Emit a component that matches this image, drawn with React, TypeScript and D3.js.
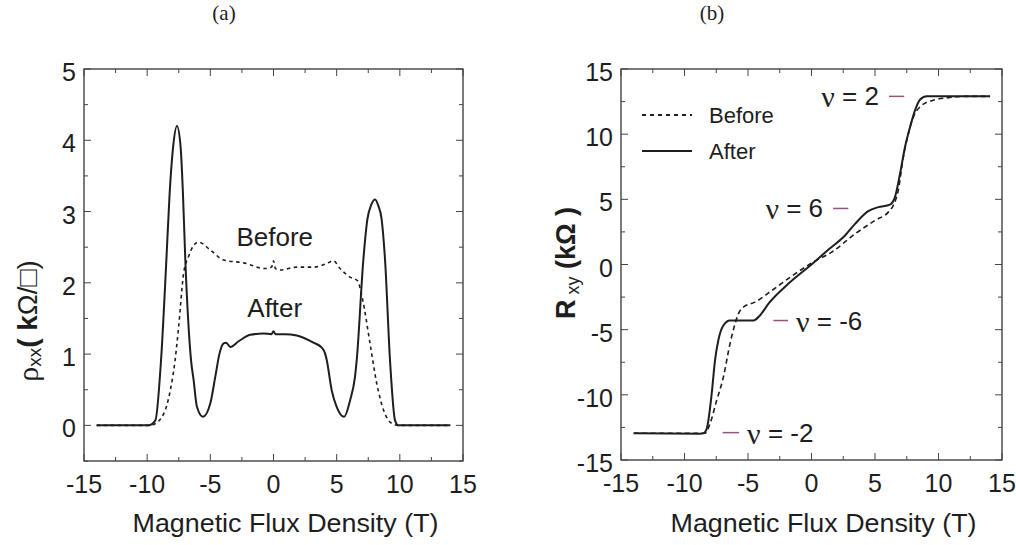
import * as d3 from "d3";

// field in T
const rhoAfter: [number, number][] = [
  [-14, 0], [-9.9, 0], [-9.35, 0.07], [-8.9, 0.92], [-8.48, 2.32], [-8.22, 3.26], [-7.95, 3.9],
  [-7.64, 4.2], [-7.35, 3.9], [-7.17, 3.26], [-6.98, 2.32], [-6.53, 0.92], [-6.32, 0.63],
  [-6.06, 0.26], [-5.59, 0.12], [-5.0, 0.31], [-4.61, 0.68], [-4.27, 1.01], [-3.95, 1.15],
  [-3.75, 1.16], [-3.42, 1.1], [-2.76, 1.18], [-1.84, 1.27], [-0.8, 1.29], [-0.15, 1.28],
  [0, 1.32], [0.15, 1.28], [0.9, 1.28], [1.84, 1.26], [3.16, 1.16], [3.82, 1.09], [4.08, 1.01],
  [4.21, 0.92], [4.61, 0.49], [5.0, 0.26], [5.59, 0.12], [6.06, 0.35], [6.45, 0.68], [6.59, 0.92],
  [7.11, 2.32], [7.43, 2.89], [7.75, 3.1], [8.04, 3.17], [8.3, 3.08], [8.56, 2.89], [8.83, 2.32],
  [9.22, 0.92], [9.62, 0.07], [9.88, 0], [14, 0],
];

const rhoBefore: [number, number][] = [
  [-14, 0], [-9.8, 0], [-9.3, 0.03], [-8.9, 0.1], [-8.5, 0.25], [-8.17, 0.49], [-7.8, 0.9],
  [-7.51, 1.38], [-7.11, 2.14], [-6.72, 2.37], [-6.3, 2.53], [-5.93, 2.57], [-5.0, 2.46],
  [-3.95, 2.32], [-2.37, 2.28], [-0.66, 2.2], [-0.15, 2.22], [0, 2.31], [0.15, 2.2], [0.53, 2.18],
  [1.84, 2.22], [3.16, 2.22], [4.2, 2.27], [4.74, 2.31], [5.27, 2.2], [6.06, 2.08], [6.64, 2.03],
  [7.06, 1.76], [7.64, 1.15], [8.17, 0.59], [8.7, 0.22], [9.35, 0.03], [9.88, 0], [14, 0],
];

const rxyAfter: [number, number][] = [
  [-14, -12.95], [-8.78, -12.98], [-8.5, -12.95], [-8.25, -12.6], [-7.86, -9.92], [-7.6, -7.37],
  [-7.34, -5.83], [-6.94, -4.68], [-6.42, -4.3], [-5.5, -4.3], [-4.58, -4.3], [-4.06, -3.91],
  [-3.4, -3.02], [-1.83, -1.48], [0, 0], [1.32, 1.13], [2.64, 2.23], [3.43, 3.12], [4.47, 4.09],
  [5.26, 4.4], [6.18, 4.6], [6.57, 5.17], [6.97, 6.96], [7.36, 9.0], [7.76, 10.54], [8.15, 11.82],
  [8.54, 12.64], [9.07, 12.9], [14.06, 12.9],
];

const rxyBefore: [number, number][] = [
  [-14, -12.95], [-8.39, -12.95], [-8.0, -12.23], [-7.47, -10.44], [-6.94, -8.65], [-6.42, -6.09],
  [-6.02, -4.55], [-5.76, -3.79], [-5.37, -3.27], [-4.45, -2.89], [-3.13, -2.0], [-1.3, -0.72],
  [0.13, 0.18], [1.59, 0.95], [3.43, 2.35], [5.0, 3.38], [6.05, 4.02], [6.44, 4.53], [6.83, 5.68],
  [7.23, 8.24], [7.62, 10.03], [8.02, 11.3], [8.67, 12.2], [9.72, 12.64], [10.77, 12.8],
  [12.07, 12.9], [14.06, 12.9],
];

const xTicks = d3.range(-15, 15.01, 2.5);
const rhoTicks = d3.range(-0.5, 5.01, 0.5);
const rxyTicks = d3.range(-15, 15.01, 2.5);

// filling-factor markers: [nu, plateau kOhm, dash start T, dash end T]
const nuMarks: [string, number, number, number][] = [
  ["2", 12.9, 6.1, 7.3],
  ["6", 4.3, 1.7, 2.9],
  ["-6", -4.3, -3.0, -1.85],
  ["-2", -12.9, -7.0, -5.7],
];

const FONT = "'Liberation Sans', Arial, Helvetica, sans-serif";
const SERIF = "'Liberation Serif', 'Times New Roman', serif";
const INK = "#1e1e1e";
const MARK = "#a04f7c";

type PanelProps = {
  left: number;
  right: number;
  top: number;
  bottom: number;
  yDomain: [number, number];
  yTicks: number[];
  isMajorY: (v: number) => boolean;
  children: (x: d3.ScaleLinear<number, number>, y: d3.ScaleLinear<number, number>) => any;
};

function Panel({ left, right, top, bottom, yDomain, yTicks, isMajorY, children }: PanelProps) {
  const x = d3.scaleLinear().domain([-15, 15]).range([left, right]);
  const y = d3.scaleLinear().domain(yDomain).range([bottom, top]);
  const isMajorX = (v: number) => Math.abs(v % 5) < 1e-6;
  return (
    <g>
      {children(x, y)}
      <rect x={left} y={top} width={right - left} height={bottom - top} fill="none" stroke="#333" strokeWidth={1.3} />
      {xTicks.map((t) => {
        const len = isMajorX(t) ? 7 : 4;
        return (
          <g key={"x" + t}>
            <line x1={x(t)} x2={x(t)} y1={bottom} y2={bottom - len} stroke="#444" strokeWidth={1} />
            <line x1={x(t)} x2={x(t)} y1={top} y2={top + len} stroke="#444" strokeWidth={1} />
            {isMajorX(t) && (
              <text x={x(t)} y={bottom + 23} textAnchor="middle" dominantBaseline="central" fontSize={25} fill={INK}>
                {t}
              </text>
            )}
          </g>
        );
      })}
      {yTicks.map((t) => {
        const len = isMajorY(t) ? 7 : 4;
        return (
          <g key={"y" + t}>
            <line x1={left} x2={left + len} y1={y(t)} y2={y(t)} stroke="#444" strokeWidth={1} />
            <line x1={right} x2={right - len} y1={y(t)} y2={y(t)} stroke="#444" strokeWidth={1} />
            {isMajorY(t) && (
              <text x={left - 8} y={y(t) + 3} textAnchor="end" dominantBaseline="central" fontSize={25} fill={INK}>
                {t}
              </text>
            )}
          </g>
        );
      })}
      <text
        x={(left + right) / 2 + 12}
        y={523}
        textAnchor="middle"
        dominantBaseline="central"
        fontSize={26}
        textLength={306}
        lengthAdjust="spacingAndGlyphs"
        fill={INK}
      >
        Magnetic Flux Density (T)
      </text>
    </g>
  );
}

function trace(x: d3.ScaleLinear<number, number>, y: d3.ScaleLinear<number, number>, pts: [number, number][]) {
  return d3
    .line<[number, number]>()
    .x((d) => x(d[0]))
    .y((d) => y(d[1]))
    .curve(d3.curveMonotoneX)(pts) as string;
}

export default function App() {
  return (
    <svg width={1016} height={545} style={{ position: "absolute", left: 0, top: 0, background: "#fff" }} fontFamily={FONT}>
      <text x={224} y={13} textAnchor="middle" dominantBaseline="central" fontSize={21} fontFamily={SERIF} fill={INK}>
        (a)
      </text>
      <text x={712} y={13} textAnchor="middle" dominantBaseline="central" fontSize={21} fontFamily={SERIF} fill={INK}>
        (b)
      </text>

      <Panel left={84} right={463} top={69} bottom={461} yDomain={[-0.5, 5]} yTicks={rhoTicks} isMajorY={(v) => Math.abs(v % 1) < 1e-6}>
        {(x, y) => (
          <g>
            <path d={trace(x, y, rhoBefore)} fill="none" stroke={INK} strokeWidth={1.6} strokeDasharray="3.5 3.5" />
            <path d={trace(x, y, rhoAfter)} fill="none" stroke={INK} strokeWidth={2} />
            <text x={x(0.1)} y={237} textAnchor="middle" dominantBaseline="central" fontSize={26} fill={INK}>Before</text>
            <text x={x(0.1)} y={308} textAnchor="middle" dominantBaseline="central" fontSize={26} fill={INK}>After</text>
          </g>
        )}
      </Panel>

      <Panel left={621} right={1002} top={69} bottom={460} yDomain={[-15, 15]} yTicks={rxyTicks} isMajorY={(v) => Math.abs(v % 5) < 1e-6}>
        {(x, y) => (
          <g>
            <path d={trace(x, y, rxyBefore)} fill="none" stroke={INK} strokeWidth={1.6} strokeDasharray="5 3.5" />
            <path d={trace(x, y, rxyAfter)} fill="none" stroke={INK} strokeWidth={2} />
            <line x1={642} x2={692} y1={115} y2={115} stroke={INK} strokeWidth={1.8} strokeDasharray="4 4" />
            <text x={709} y={115} dominantBaseline="central" fontSize={22} fill={INK}>Before</text>
            <line x1={642} x2={692} y1={151} y2={151} stroke={INK} strokeWidth={2} />
            <text x={709} y={151} dominantBaseline="central" fontSize={22} fill={INK}>After</text>
            {nuMarks.map(([nu, v, a, b]) => {
              const positive = v > 0;
              return (
                <g key={nu}>
                  <line x1={x(a)} x2={x(b)} y1={y(v)} y2={y(v)} stroke={MARK} strokeWidth={1.5} />
                  <text
                    x={positive ? x(a) - 10 : x(b) + 8}
                    y={y(v)}
                    textAnchor={positive ? "end" : "start"}
                    dominantBaseline="central"
                    fontSize={26}
                    fill={INK}
                  >
                    <tspan fontFamily={SERIF} fontSize={30}>ν</tspan>
                    <tspan>{" = " + nu}</tspan>
                  </text>
                </g>
              );
            })}
          </g>
        )}
      </Panel>

      <text transform="translate(27,321) rotate(-90)" textAnchor="middle" dominantBaseline="central" fontSize={28} fill={INK}>
        <tspan fontFamily={SERIF} fontSize={30}>ρ</tspan>
        <tspan fontSize={19} dy={7}>xx</tspan>
        <tspan dy={-7} fontWeight="bold">( k</tspan>
        <tspan>Ω/□)</tspan>
      </text>
      <text transform="translate(566,263) rotate(-90)" textAnchor="middle" dominantBaseline="central" fontSize={27} fontWeight="bold" fill={INK}>
        <tspan>R</tspan>
        <tspan fontSize={18} dy={7} fontWeight="normal"> xy</tspan>
        <tspan dy={-7}> (kΩ )</tspan>
      </text>
    </svg>
  );
}
